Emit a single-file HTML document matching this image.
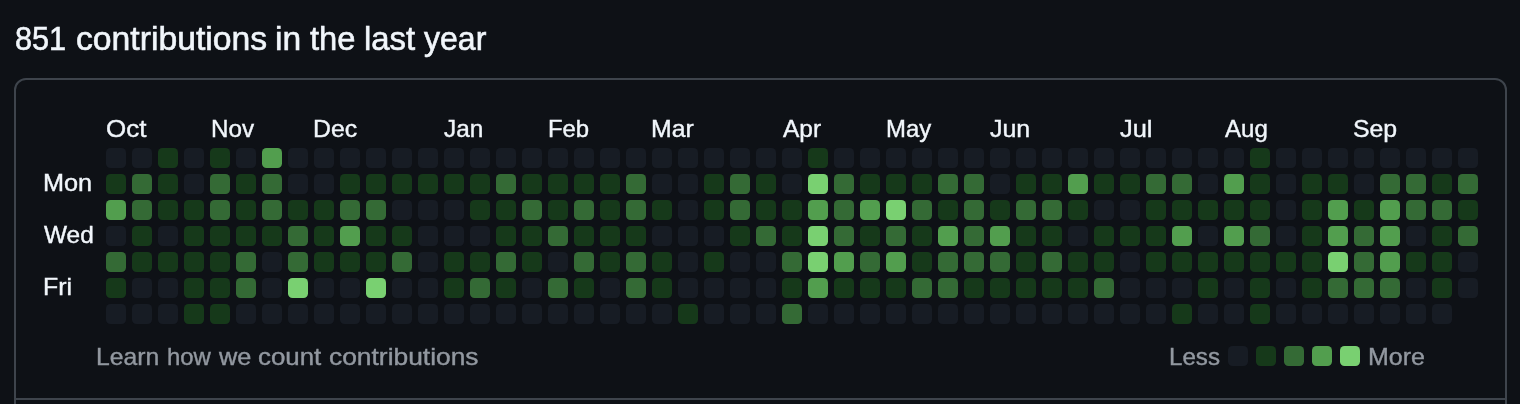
<!DOCTYPE html><html lang="en"><head><meta charset="utf-8"><title>Contributions</title><style>
html,body{margin:0;padding:0;background:#0e1116;}
body{width:1520px;height:404px;position:relative;overflow:hidden;font-family:"Liberation Sans",sans-serif;color:#f1f6fb;}
.t{position:absolute;white-space:nowrap;line-height:1;transform-origin:0 0;display:block;}
h2{margin:0;font-weight:400;font-size:34px;-webkit-text-stroke:0.6px #f1f6fb;}
h2 .t{top:20.8px;}
.box{position:absolute;left:14px;top:78px;width:1489px;height:400px;border:2px solid #3e444c;border-radius:12px;}
.hr{position:absolute;left:16px;top:398px;width:1489px;height:2px;background:#3e444c;}
.m{font-size:24px;top:117px;-webkit-text-stroke:0.4px #f1f6fb;}
.d{font-size:24px;-webkit-text-stroke:0.4px #f1f6fb;}
.f{font-size:24px;color:#9298a0;top:345px;-webkit-text-stroke:0.4px #9298a0;}
.c{position:absolute;width:20px;height:20px;border-radius:4.5px;}
.l0{background:#171c24}.l1{background:#16391a}.l2{background:#346a35}.l3{background:#529e4e}.l4{background:#79d071}
</style></head><body>
<h2><span class="t h" id="h0" style="left:14.55px;transform:scaleX(0.9021);">851</span> <span class="t h" id="h1" style="left:75.80px;transform:scaleX(0.9918);">contributions</span> <span class="t h" id="h2" style="left:275.05px;transform:scaleX(0.9882);">in</span> <span class="t h" id="h3" style="left:310.00px;transform:scaleX(0.9625);">the</span> <span class="t h" id="h4" style="left:363.75px;transform:scaleX(0.9668);">last</span> <span class="t h" id="h5" style="left:424.09px;transform:scaleX(0.9419);">year</span></h2>
<div class="box"></div><div class="hr"></div>
<span class="t m" id="m0" style="left:105.97px;transform:scaleX(1.0812);">Oct</span>
<span class="t m" id="m1" style="left:210.63px;transform:scaleX(1.0082);">Nov</span>
<span class="t m" id="m2" style="left:313.08px;transform:scaleX(1.0327);">Dec</span>
<span class="t m" id="m3" style="left:444.03px;transform:scaleX(1.0137);">Jan</span>
<span class="t m" id="m4" style="left:548.23px;transform:scaleX(0.9946);">Feb</span>
<span class="t m" id="m5" style="left:651.32px;transform:scaleX(1.0342);">Mar</span>
<span class="t m" id="m6" style="left:782.50px;transform:scaleX(1.0203);">Apr</span>
<span class="t m" id="m7" style="left:886.00px;transform:scaleX(0.9963);">May</span>
<span class="t m" id="m8" style="left:990.04px;transform:scaleX(1.0400);">Jun</span>
<span class="t m" id="m9" style="left:1120.03px;transform:scaleX(1.0589);">Jul</span>
<span class="t m" id="m10" style="left:1224.50px;transform:scaleX(1.0008);">Aug</span>
<span class="t m" id="m11" style="left:1353.00px;transform:scaleX(1.0343);">Sep</span>
<span class="t d" id="d0" style="left:43.28px;transform:scaleX(1.0529);top:171px;">Mon</span>
<span class="t d" id="d1" style="left:44.48px;transform:scaleX(1.0170);top:223px;">Wed</span>
<span class="t d" id="d2" style="left:42.95px;transform:scaleX(1.0354);top:275px;">Fri</span>
<i class="c l0" style="left:106px;top:148px"></i>
<i class="c l0" style="left:132px;top:148px"></i>
<i class="c l1" style="left:158px;top:148px"></i>
<i class="c l0" style="left:184px;top:148px"></i>
<i class="c l1" style="left:210px;top:148px"></i>
<i class="c l0" style="left:236px;top:148px"></i>
<i class="c l3" style="left:262px;top:148px"></i>
<i class="c l0" style="left:288px;top:148px"></i>
<i class="c l0" style="left:314px;top:148px"></i>
<i class="c l0" style="left:340px;top:148px"></i>
<i class="c l0" style="left:366px;top:148px"></i>
<i class="c l0" style="left:392px;top:148px"></i>
<i class="c l0" style="left:418px;top:148px"></i>
<i class="c l0" style="left:444px;top:148px"></i>
<i class="c l0" style="left:470px;top:148px"></i>
<i class="c l0" style="left:496px;top:148px"></i>
<i class="c l0" style="left:522px;top:148px"></i>
<i class="c l0" style="left:548px;top:148px"></i>
<i class="c l0" style="left:574px;top:148px"></i>
<i class="c l0" style="left:600px;top:148px"></i>
<i class="c l0" style="left:626px;top:148px"></i>
<i class="c l0" style="left:652px;top:148px"></i>
<i class="c l0" style="left:678px;top:148px"></i>
<i class="c l0" style="left:704px;top:148px"></i>
<i class="c l0" style="left:730px;top:148px"></i>
<i class="c l0" style="left:756px;top:148px"></i>
<i class="c l0" style="left:782px;top:148px"></i>
<i class="c l1" style="left:808px;top:148px"></i>
<i class="c l0" style="left:834px;top:148px"></i>
<i class="c l0" style="left:860px;top:148px"></i>
<i class="c l0" style="left:886px;top:148px"></i>
<i class="c l0" style="left:912px;top:148px"></i>
<i class="c l0" style="left:938px;top:148px"></i>
<i class="c l0" style="left:964px;top:148px"></i>
<i class="c l0" style="left:990px;top:148px"></i>
<i class="c l0" style="left:1016px;top:148px"></i>
<i class="c l0" style="left:1042px;top:148px"></i>
<i class="c l0" style="left:1068px;top:148px"></i>
<i class="c l0" style="left:1094px;top:148px"></i>
<i class="c l0" style="left:1120px;top:148px"></i>
<i class="c l0" style="left:1146px;top:148px"></i>
<i class="c l0" style="left:1172px;top:148px"></i>
<i class="c l0" style="left:1198px;top:148px"></i>
<i class="c l0" style="left:1224px;top:148px"></i>
<i class="c l1" style="left:1250px;top:148px"></i>
<i class="c l0" style="left:1276px;top:148px"></i>
<i class="c l0" style="left:1302px;top:148px"></i>
<i class="c l0" style="left:1328px;top:148px"></i>
<i class="c l0" style="left:1354px;top:148px"></i>
<i class="c l0" style="left:1380px;top:148px"></i>
<i class="c l0" style="left:1406px;top:148px"></i>
<i class="c l0" style="left:1432px;top:148px"></i>
<i class="c l0" style="left:1458px;top:148px"></i>
<i class="c l1" style="left:106px;top:174px"></i>
<i class="c l2" style="left:132px;top:174px"></i>
<i class="c l1" style="left:158px;top:174px"></i>
<i class="c l0" style="left:184px;top:174px"></i>
<i class="c l2" style="left:210px;top:174px"></i>
<i class="c l1" style="left:236px;top:174px"></i>
<i class="c l2" style="left:262px;top:174px"></i>
<i class="c l0" style="left:288px;top:174px"></i>
<i class="c l0" style="left:314px;top:174px"></i>
<i class="c l1" style="left:340px;top:174px"></i>
<i class="c l1" style="left:366px;top:174px"></i>
<i class="c l1" style="left:392px;top:174px"></i>
<i class="c l1" style="left:418px;top:174px"></i>
<i class="c l1" style="left:444px;top:174px"></i>
<i class="c l1" style="left:470px;top:174px"></i>
<i class="c l2" style="left:496px;top:174px"></i>
<i class="c l1" style="left:522px;top:174px"></i>
<i class="c l1" style="left:548px;top:174px"></i>
<i class="c l1" style="left:574px;top:174px"></i>
<i class="c l1" style="left:600px;top:174px"></i>
<i class="c l2" style="left:626px;top:174px"></i>
<i class="c l0" style="left:652px;top:174px"></i>
<i class="c l0" style="left:678px;top:174px"></i>
<i class="c l1" style="left:704px;top:174px"></i>
<i class="c l2" style="left:730px;top:174px"></i>
<i class="c l1" style="left:756px;top:174px"></i>
<i class="c l0" style="left:782px;top:174px"></i>
<i class="c l4" style="left:808px;top:174px"></i>
<i class="c l2" style="left:834px;top:174px"></i>
<i class="c l1" style="left:860px;top:174px"></i>
<i class="c l1" style="left:886px;top:174px"></i>
<i class="c l1" style="left:912px;top:174px"></i>
<i class="c l2" style="left:938px;top:174px"></i>
<i class="c l2" style="left:964px;top:174px"></i>
<i class="c l0" style="left:990px;top:174px"></i>
<i class="c l1" style="left:1016px;top:174px"></i>
<i class="c l1" style="left:1042px;top:174px"></i>
<i class="c l3" style="left:1068px;top:174px"></i>
<i class="c l1" style="left:1094px;top:174px"></i>
<i class="c l1" style="left:1120px;top:174px"></i>
<i class="c l2" style="left:1146px;top:174px"></i>
<i class="c l2" style="left:1172px;top:174px"></i>
<i class="c l0" style="left:1198px;top:174px"></i>
<i class="c l3" style="left:1224px;top:174px"></i>
<i class="c l1" style="left:1250px;top:174px"></i>
<i class="c l0" style="left:1276px;top:174px"></i>
<i class="c l1" style="left:1302px;top:174px"></i>
<i class="c l1" style="left:1328px;top:174px"></i>
<i class="c l0" style="left:1354px;top:174px"></i>
<i class="c l2" style="left:1380px;top:174px"></i>
<i class="c l2" style="left:1406px;top:174px"></i>
<i class="c l1" style="left:1432px;top:174px"></i>
<i class="c l2" style="left:1458px;top:174px"></i>
<i class="c l3" style="left:106px;top:200px"></i>
<i class="c l2" style="left:132px;top:200px"></i>
<i class="c l1" style="left:158px;top:200px"></i>
<i class="c l1" style="left:184px;top:200px"></i>
<i class="c l2" style="left:210px;top:200px"></i>
<i class="c l1" style="left:236px;top:200px"></i>
<i class="c l2" style="left:262px;top:200px"></i>
<i class="c l1" style="left:288px;top:200px"></i>
<i class="c l1" style="left:314px;top:200px"></i>
<i class="c l2" style="left:340px;top:200px"></i>
<i class="c l2" style="left:366px;top:200px"></i>
<i class="c l0" style="left:392px;top:200px"></i>
<i class="c l0" style="left:418px;top:200px"></i>
<i class="c l0" style="left:444px;top:200px"></i>
<i class="c l1" style="left:470px;top:200px"></i>
<i class="c l1" style="left:496px;top:200px"></i>
<i class="c l2" style="left:522px;top:200px"></i>
<i class="c l1" style="left:548px;top:200px"></i>
<i class="c l2" style="left:574px;top:200px"></i>
<i class="c l1" style="left:600px;top:200px"></i>
<i class="c l2" style="left:626px;top:200px"></i>
<i class="c l1" style="left:652px;top:200px"></i>
<i class="c l0" style="left:678px;top:200px"></i>
<i class="c l1" style="left:704px;top:200px"></i>
<i class="c l2" style="left:730px;top:200px"></i>
<i class="c l1" style="left:756px;top:200px"></i>
<i class="c l1" style="left:782px;top:200px"></i>
<i class="c l3" style="left:808px;top:200px"></i>
<i class="c l2" style="left:834px;top:200px"></i>
<i class="c l3" style="left:860px;top:200px"></i>
<i class="c l4" style="left:886px;top:200px"></i>
<i class="c l2" style="left:912px;top:200px"></i>
<i class="c l1" style="left:938px;top:200px"></i>
<i class="c l2" style="left:964px;top:200px"></i>
<i class="c l1" style="left:990px;top:200px"></i>
<i class="c l2" style="left:1016px;top:200px"></i>
<i class="c l2" style="left:1042px;top:200px"></i>
<i class="c l1" style="left:1068px;top:200px"></i>
<i class="c l0" style="left:1094px;top:200px"></i>
<i class="c l0" style="left:1120px;top:200px"></i>
<i class="c l1" style="left:1146px;top:200px"></i>
<i class="c l1" style="left:1172px;top:200px"></i>
<i class="c l1" style="left:1198px;top:200px"></i>
<i class="c l1" style="left:1224px;top:200px"></i>
<i class="c l1" style="left:1250px;top:200px"></i>
<i class="c l0" style="left:1276px;top:200px"></i>
<i class="c l1" style="left:1302px;top:200px"></i>
<i class="c l3" style="left:1328px;top:200px"></i>
<i class="c l1" style="left:1354px;top:200px"></i>
<i class="c l3" style="left:1380px;top:200px"></i>
<i class="c l2" style="left:1406px;top:200px"></i>
<i class="c l2" style="left:1432px;top:200px"></i>
<i class="c l1" style="left:1458px;top:200px"></i>
<i class="c l0" style="left:106px;top:226px"></i>
<i class="c l1" style="left:132px;top:226px"></i>
<i class="c l0" style="left:158px;top:226px"></i>
<i class="c l1" style="left:184px;top:226px"></i>
<i class="c l1" style="left:210px;top:226px"></i>
<i class="c l1" style="left:236px;top:226px"></i>
<i class="c l1" style="left:262px;top:226px"></i>
<i class="c l2" style="left:288px;top:226px"></i>
<i class="c l1" style="left:314px;top:226px"></i>
<i class="c l3" style="left:340px;top:226px"></i>
<i class="c l1" style="left:366px;top:226px"></i>
<i class="c l1" style="left:392px;top:226px"></i>
<i class="c l0" style="left:418px;top:226px"></i>
<i class="c l0" style="left:444px;top:226px"></i>
<i class="c l0" style="left:470px;top:226px"></i>
<i class="c l1" style="left:496px;top:226px"></i>
<i class="c l1" style="left:522px;top:226px"></i>
<i class="c l2" style="left:548px;top:226px"></i>
<i class="c l1" style="left:574px;top:226px"></i>
<i class="c l1" style="left:600px;top:226px"></i>
<i class="c l1" style="left:626px;top:226px"></i>
<i class="c l0" style="left:652px;top:226px"></i>
<i class="c l0" style="left:678px;top:226px"></i>
<i class="c l0" style="left:704px;top:226px"></i>
<i class="c l1" style="left:730px;top:226px"></i>
<i class="c l2" style="left:756px;top:226px"></i>
<i class="c l1" style="left:782px;top:226px"></i>
<i class="c l4" style="left:808px;top:226px"></i>
<i class="c l2" style="left:834px;top:226px"></i>
<i class="c l1" style="left:860px;top:226px"></i>
<i class="c l2" style="left:886px;top:226px"></i>
<i class="c l1" style="left:912px;top:226px"></i>
<i class="c l3" style="left:938px;top:226px"></i>
<i class="c l2" style="left:964px;top:226px"></i>
<i class="c l3" style="left:990px;top:226px"></i>
<i class="c l1" style="left:1016px;top:226px"></i>
<i class="c l1" style="left:1042px;top:226px"></i>
<i class="c l0" style="left:1068px;top:226px"></i>
<i class="c l1" style="left:1094px;top:226px"></i>
<i class="c l1" style="left:1120px;top:226px"></i>
<i class="c l1" style="left:1146px;top:226px"></i>
<i class="c l3" style="left:1172px;top:226px"></i>
<i class="c l0" style="left:1198px;top:226px"></i>
<i class="c l3" style="left:1224px;top:226px"></i>
<i class="c l2" style="left:1250px;top:226px"></i>
<i class="c l0" style="left:1276px;top:226px"></i>
<i class="c l1" style="left:1302px;top:226px"></i>
<i class="c l3" style="left:1328px;top:226px"></i>
<i class="c l2" style="left:1354px;top:226px"></i>
<i class="c l3" style="left:1380px;top:226px"></i>
<i class="c l0" style="left:1406px;top:226px"></i>
<i class="c l1" style="left:1432px;top:226px"></i>
<i class="c l2" style="left:1458px;top:226px"></i>
<i class="c l2" style="left:106px;top:252px"></i>
<i class="c l1" style="left:132px;top:252px"></i>
<i class="c l1" style="left:158px;top:252px"></i>
<i class="c l1" style="left:184px;top:252px"></i>
<i class="c l1" style="left:210px;top:252px"></i>
<i class="c l2" style="left:236px;top:252px"></i>
<i class="c l0" style="left:262px;top:252px"></i>
<i class="c l2" style="left:288px;top:252px"></i>
<i class="c l1" style="left:314px;top:252px"></i>
<i class="c l1" style="left:340px;top:252px"></i>
<i class="c l1" style="left:366px;top:252px"></i>
<i class="c l2" style="left:392px;top:252px"></i>
<i class="c l0" style="left:418px;top:252px"></i>
<i class="c l1" style="left:444px;top:252px"></i>
<i class="c l1" style="left:470px;top:252px"></i>
<i class="c l2" style="left:496px;top:252px"></i>
<i class="c l1" style="left:522px;top:252px"></i>
<i class="c l0" style="left:548px;top:252px"></i>
<i class="c l2" style="left:574px;top:252px"></i>
<i class="c l1" style="left:600px;top:252px"></i>
<i class="c l2" style="left:626px;top:252px"></i>
<i class="c l1" style="left:652px;top:252px"></i>
<i class="c l0" style="left:678px;top:252px"></i>
<i class="c l1" style="left:704px;top:252px"></i>
<i class="c l0" style="left:730px;top:252px"></i>
<i class="c l0" style="left:756px;top:252px"></i>
<i class="c l2" style="left:782px;top:252px"></i>
<i class="c l4" style="left:808px;top:252px"></i>
<i class="c l3" style="left:834px;top:252px"></i>
<i class="c l2" style="left:860px;top:252px"></i>
<i class="c l3" style="left:886px;top:252px"></i>
<i class="c l1" style="left:912px;top:252px"></i>
<i class="c l2" style="left:938px;top:252px"></i>
<i class="c l2" style="left:964px;top:252px"></i>
<i class="c l2" style="left:990px;top:252px"></i>
<i class="c l1" style="left:1016px;top:252px"></i>
<i class="c l2" style="left:1042px;top:252px"></i>
<i class="c l1" style="left:1068px;top:252px"></i>
<i class="c l1" style="left:1094px;top:252px"></i>
<i class="c l0" style="left:1120px;top:252px"></i>
<i class="c l1" style="left:1146px;top:252px"></i>
<i class="c l1" style="left:1172px;top:252px"></i>
<i class="c l1" style="left:1198px;top:252px"></i>
<i class="c l1" style="left:1224px;top:252px"></i>
<i class="c l1" style="left:1250px;top:252px"></i>
<i class="c l1" style="left:1276px;top:252px"></i>
<i class="c l1" style="left:1302px;top:252px"></i>
<i class="c l4" style="left:1328px;top:252px"></i>
<i class="c l2" style="left:1354px;top:252px"></i>
<i class="c l3" style="left:1380px;top:252px"></i>
<i class="c l1" style="left:1406px;top:252px"></i>
<i class="c l1" style="left:1432px;top:252px"></i>
<i class="c l0" style="left:1458px;top:252px"></i>
<i class="c l1" style="left:106px;top:278px"></i>
<i class="c l0" style="left:132px;top:278px"></i>
<i class="c l0" style="left:158px;top:278px"></i>
<i class="c l1" style="left:184px;top:278px"></i>
<i class="c l1" style="left:210px;top:278px"></i>
<i class="c l2" style="left:236px;top:278px"></i>
<i class="c l0" style="left:262px;top:278px"></i>
<i class="c l4" style="left:288px;top:278px"></i>
<i class="c l0" style="left:314px;top:278px"></i>
<i class="c l0" style="left:340px;top:278px"></i>
<i class="c l4" style="left:366px;top:278px"></i>
<i class="c l0" style="left:392px;top:278px"></i>
<i class="c l0" style="left:418px;top:278px"></i>
<i class="c l1" style="left:444px;top:278px"></i>
<i class="c l2" style="left:470px;top:278px"></i>
<i class="c l1" style="left:496px;top:278px"></i>
<i class="c l0" style="left:522px;top:278px"></i>
<i class="c l2" style="left:548px;top:278px"></i>
<i class="c l1" style="left:574px;top:278px"></i>
<i class="c l0" style="left:600px;top:278px"></i>
<i class="c l2" style="left:626px;top:278px"></i>
<i class="c l1" style="left:652px;top:278px"></i>
<i class="c l0" style="left:678px;top:278px"></i>
<i class="c l0" style="left:704px;top:278px"></i>
<i class="c l0" style="left:730px;top:278px"></i>
<i class="c l0" style="left:756px;top:278px"></i>
<i class="c l1" style="left:782px;top:278px"></i>
<i class="c l3" style="left:808px;top:278px"></i>
<i class="c l1" style="left:834px;top:278px"></i>
<i class="c l1" style="left:860px;top:278px"></i>
<i class="c l1" style="left:886px;top:278px"></i>
<i class="c l2" style="left:912px;top:278px"></i>
<i class="c l2" style="left:938px;top:278px"></i>
<i class="c l1" style="left:964px;top:278px"></i>
<i class="c l1" style="left:990px;top:278px"></i>
<i class="c l1" style="left:1016px;top:278px"></i>
<i class="c l1" style="left:1042px;top:278px"></i>
<i class="c l1" style="left:1068px;top:278px"></i>
<i class="c l2" style="left:1094px;top:278px"></i>
<i class="c l0" style="left:1120px;top:278px"></i>
<i class="c l0" style="left:1146px;top:278px"></i>
<i class="c l0" style="left:1172px;top:278px"></i>
<i class="c l1" style="left:1198px;top:278px"></i>
<i class="c l0" style="left:1224px;top:278px"></i>
<i class="c l1" style="left:1250px;top:278px"></i>
<i class="c l0" style="left:1276px;top:278px"></i>
<i class="c l1" style="left:1302px;top:278px"></i>
<i class="c l2" style="left:1328px;top:278px"></i>
<i class="c l2" style="left:1354px;top:278px"></i>
<i class="c l2" style="left:1380px;top:278px"></i>
<i class="c l0" style="left:1406px;top:278px"></i>
<i class="c l1" style="left:1432px;top:278px"></i>
<i class="c l0" style="left:1458px;top:278px"></i>
<i class="c l0" style="left:106px;top:304px"></i>
<i class="c l0" style="left:132px;top:304px"></i>
<i class="c l0" style="left:158px;top:304px"></i>
<i class="c l1" style="left:184px;top:304px"></i>
<i class="c l1" style="left:210px;top:304px"></i>
<i class="c l0" style="left:236px;top:304px"></i>
<i class="c l0" style="left:262px;top:304px"></i>
<i class="c l0" style="left:288px;top:304px"></i>
<i class="c l0" style="left:314px;top:304px"></i>
<i class="c l0" style="left:340px;top:304px"></i>
<i class="c l0" style="left:366px;top:304px"></i>
<i class="c l0" style="left:392px;top:304px"></i>
<i class="c l0" style="left:418px;top:304px"></i>
<i class="c l0" style="left:444px;top:304px"></i>
<i class="c l0" style="left:470px;top:304px"></i>
<i class="c l0" style="left:496px;top:304px"></i>
<i class="c l0" style="left:522px;top:304px"></i>
<i class="c l0" style="left:548px;top:304px"></i>
<i class="c l0" style="left:574px;top:304px"></i>
<i class="c l0" style="left:600px;top:304px"></i>
<i class="c l0" style="left:626px;top:304px"></i>
<i class="c l0" style="left:652px;top:304px"></i>
<i class="c l1" style="left:678px;top:304px"></i>
<i class="c l0" style="left:704px;top:304px"></i>
<i class="c l0" style="left:730px;top:304px"></i>
<i class="c l0" style="left:756px;top:304px"></i>
<i class="c l2" style="left:782px;top:304px"></i>
<i class="c l0" style="left:808px;top:304px"></i>
<i class="c l0" style="left:834px;top:304px"></i>
<i class="c l0" style="left:860px;top:304px"></i>
<i class="c l0" style="left:886px;top:304px"></i>
<i class="c l0" style="left:912px;top:304px"></i>
<i class="c l0" style="left:938px;top:304px"></i>
<i class="c l0" style="left:964px;top:304px"></i>
<i class="c l0" style="left:990px;top:304px"></i>
<i class="c l0" style="left:1016px;top:304px"></i>
<i class="c l0" style="left:1042px;top:304px"></i>
<i class="c l0" style="left:1068px;top:304px"></i>
<i class="c l0" style="left:1094px;top:304px"></i>
<i class="c l0" style="left:1120px;top:304px"></i>
<i class="c l0" style="left:1146px;top:304px"></i>
<i class="c l1" style="left:1172px;top:304px"></i>
<i class="c l0" style="left:1198px;top:304px"></i>
<i class="c l0" style="left:1224px;top:304px"></i>
<i class="c l1" style="left:1250px;top:304px"></i>
<i class="c l0" style="left:1276px;top:304px"></i>
<i class="c l0" style="left:1302px;top:304px"></i>
<i class="c l0" style="left:1328px;top:304px"></i>
<i class="c l0" style="left:1354px;top:304px"></i>
<i class="c l0" style="left:1380px;top:304px"></i>
<i class="c l0" style="left:1406px;top:304px"></i>
<i class="c l0" style="left:1432px;top:304px"></i>
<a><span class="t f" id="f0" style="left:95.85px;transform:scaleX(1.0294);">Learn</span> <span class="t f" id="f1" style="left:166.83px;transform:scaleX(0.9973);">how</span> <span class="t f" id="f2" style="left:219.41px;transform:scaleX(1.0535);">we</span> <span class="t f" id="f3" style="left:258.23px;transform:scaleX(1.0784);">count</span> <span class="t f" id="f4" style="left:329.10px;transform:scaleX(1.0989);">contributions</span></a>
<span class="t f" id="less" style="left:1168.80px;transform:scaleX(1.0056);">Less</span>
<i class="c l0" style="left:1228px;top:346px"></i>
<i class="c l1" style="left:1256px;top:346px"></i>
<i class="c l2" style="left:1284px;top:346px"></i>
<i class="c l3" style="left:1312px;top:346px"></i>
<i class="c l4" style="left:1340px;top:346px"></i>
<span class="t f" id="more" style="left:1368.06px;transform:scaleX(1.0414);">More</span>
</body></html>
